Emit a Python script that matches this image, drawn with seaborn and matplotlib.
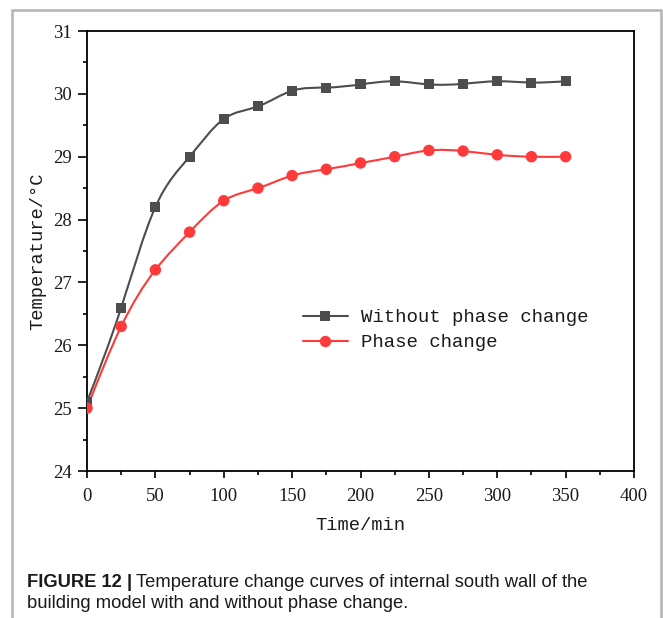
import numpy as np
import pandas as pd
import matplotlib
matplotlib.use("Agg")
import matplotlib.pyplot as plt
import seaborn as sns
from matplotlib.path import Path
from matplotlib.patches import PathPatch, Rectangle
from matplotlib.lines import Line2D
from matplotlib.ticker import MultipleLocator

time_min = [0, 25, 50, 75, 100, 125, 150, 175, 200, 225, 250, 275, 300, 325, 350]
without_pc = [25.1, 26.6, 28.2, 29.0, 29.6, 29.8, 30.05, 30.1, 30.15, 30.2, 30.15, 30.16, 30.2, 30.18, 30.2]
with_pc = [25.0, 26.3, 27.2, 27.8, 28.3, 28.5, 28.7, 28.8, 28.9, 29.0, 29.1, 29.09, 29.03, 29.0, 29.0]
series_names = ["Without phase change", "Phase change"]

BLACK = "#4d4d4d"
RED = "#ff3a3a"

sns.set_theme(style="white")
plt.rcParams["font.family"] = ["Liberation Serif", "DejaVu Serif"]

fig = plt.figure(figsize=(6.63, 6.18), dpi=100)
ax = fig.add_axes([87/663, 1-471/618, (634-87)/663, (471-31)/618])

df = pd.DataFrame({
    "Time": time_min * 2,
    "Temp": without_pc + with_pc,
    "Series": [series_names[0]] * len(time_min) + [series_names[1]] * len(time_min),
})


def spline_path(xs, ys):
    """Natural cubic spline through the points, expressed as Bezier segments."""
    x = np.asarray(xs, float)
    y = np.asarray(ys, float)
    n = len(x)
    h = np.diff(x)
    A = np.zeros((n, n))
    b = np.zeros(n)
    A[0, 0] = 1
    A[-1, -1] = 1
    for i in range(1, n - 1):
        A[i, i - 1] = h[i - 1]
        A[i, i] = 2 * (h[i - 1] + h[i])
        A[i, i + 1] = h[i]
        b[i] = 6 * ((y[i + 1] - y[i]) / h[i] - (y[i] - y[i - 1]) / h[i - 1])
    M = np.linalg.solve(A, b)
    verts = [(x[0], y[0])]
    codes = [Path.MOVETO]
    for i in range(n - 1):
        d0 = (y[i + 1] - y[i]) / h[i] - h[i] * (2 * M[i] + M[i + 1]) / 6
        d1 = (y[i + 1] - y[i]) / h[i] + h[i] * (M[i] + 2 * M[i + 1]) / 6
        c1 = (x[i] + h[i] / 3, y[i] + d0 * h[i] / 3)
        c2 = (x[i + 1] - h[i] / 3, y[i + 1] - d1 * h[i] / 3)
        verts += [c1, c2, (x[i + 1], y[i + 1])]
        codes += [Path.CURVE4] * 3
    return Path(verts, codes)


for name, ys, col in [(series_names[0], without_pc, BLACK), (series_names[1], with_pc, RED)]:
    ax.add_patch(PathPatch(spline_path(time_min, ys), facecolor="none",
                           edgecolor=col, lw=1.5, zorder=2))

sns.scatterplot(data=df, x="Time", y="Temp", hue="Series", style="Series",
                palette={series_names[0]: BLACK, series_names[1]: RED},
                markers={series_names[0]: "s", series_names[1]: "o"},
                size="Series", sizes={series_names[0]: 52, series_names[1]: 68},
                linewidth=0, ax=ax, legend=False, zorder=3)

ax.set_xlim(0, 400)
ax.set_ylim(24, 31)
ax.xaxis.set_major_locator(MultipleLocator(50))
ax.xaxis.set_minor_locator(MultipleLocator(25))
ax.yaxis.set_major_locator(MultipleLocator(1))
ax.yaxis.set_minor_locator(MultipleLocator(0.5))
ax.tick_params(which="major", direction="out", width=1.2, color="black",
               labelsize=13.5, bottom=True, left=True, top=False, right=False)
ax.tick_params(axis="y", which="major", length=6.2, pad=4.5)
ax.tick_params(axis="x", which="major", length=5, pad=7)
ax.tick_params(which="minor", direction="out", length=3, width=1.2, color="black",
               bottom=True, left=True, top=False, right=False)
for lab in ax.get_xticklabels() + ax.get_yticklabels():
    lab.set_color("#1a1a1a")
for sp in ax.spines.values():
    sp.set_color("black")
    sp.set_linewidth(1.3)
ax.grid(False)

ax.set_xlabel("Time/min", family=["Liberation Mono", "DejaVu Sans Mono"], fontsize=13.5,
              color="#1a1a1a", labelpad=9)
ax.set_ylabel("Temperature/°C", family=["Liberation Mono", "DejaVu Sans Mono"], fontsize=13.5,
              color="#1a1a1a", labelpad=5)

handles = [
    Line2D([], [], color=BLACK, lw=1.5, marker="s", ms=7.2, mew=0),
    Line2D([], [], color=RED, lw=1.5, marker="o", ms=8.2, mew=0),
]
leg = ax.legend(handles, series_names, loc="upper left",
                bbox_to_anchor=(303/663, 1-309/618), bbox_transform=fig.transFigure,
                frameon=False, handlelength=2.35, handletextpad=0.7, labelspacing=0.4,
                borderaxespad=0, borderpad=0,
                prop={"family": ["Liberation Mono", "DejaVu Sans Mono"], "size": 13.7})
for t in leg.get_texts():
    t.set_color("#1a1a1a")

# card border
fig.patches.append(Rectangle((12/663, -0.05), (661-12)/663, 1.05 - 10/618,
                             transform=fig.transFigure, fill=False,
                             edgecolor="#b4b4b4", lw=1.8))

cap_font = ["Liberation Sans", "DejaVu Sans"]
t1 = fig.text(27/663, 1-587/618, "FIGURE 12 |", family=cap_font, fontweight="bold",
              fontsize=13.25, color="#1a1a1a", va="baseline", ha="left")
fig.canvas.draw()
bb = t1.get_window_extent()
fig.text((bb.x1 + 4)/663, 1-587/618,
         "Temperature change curves of internal south wall of the",
         family=cap_font, fontsize=13.25, color="#1a1a1a", va="baseline", ha="left")
fig.text(27/663, 1-608/618, "building model with and without phase change.",
         family=cap_font, fontsize=13.25, color="#1a1a1a", va="baseline", ha="left")

fig.savefig("out.png", dpi=100)
